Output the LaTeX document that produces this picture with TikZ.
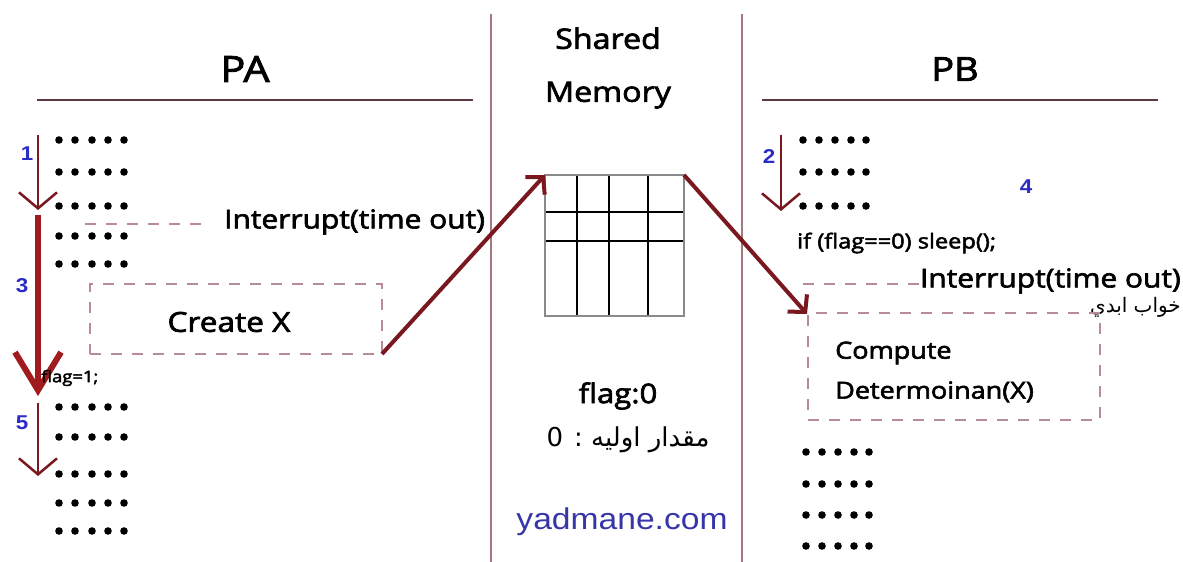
\documentclass[tikz,border=0pt]{standalone}
\usepackage{fontspec}
\setmainfont{Open Sans}
\newfontfamily\comicfont{Open Sans}[FakeStretch=1.15,FakeBold=2.5]
\newfontfamily\arabicfont[Script=Arabic]{DejaVu Sans}
\newfontfamily\arialfont{Liberation Sans}[FakeStretch=1.12]
\TeXXeTstate=1
\usetikzlibrary{arrows.meta}
\definecolor{sepc}{HTML}{A8787F}
\definecolor{headc}{HTML}{5A3A3E}
\definecolor{dashc}{HTML}{B88C96}
\definecolor{darkred}{HTML}{7A1820}
\definecolor{brightred}{HTML}{A01A1E}
\definecolor{numblue}{HTML}{2B2BC8}
\definecolor{webblue}{HTML}{3636A8}
\definecolor{gridgray}{HTML}{8A8A8A}
\begin{document}
\begin{tikzpicture}[x=1pt,y=-1pt,
  sepline/.style={draw=sepc,line width=1.6pt},
  headline/.style={draw=headc,line width=1.3pt},
  dashline/.style={draw=dashc,line width=2pt,dash pattern=on 11pt off 10pt},
  dashbox/.style={dashline,rectangle,inner sep=0pt,outer sep=0pt},
  titletxt/.style={font=\comicfont\fontsize{36}{40}\selectfont},
  itext/.style={font=\comicfont\fontsize{26}{28}\selectfont,inner sep=0pt},
  smalltxt/.style={font=\comicfont\fontsize{16}{18}\selectfont,inner sep=0pt},
  numtxt/.style={text=numblue,font=\arialfont\bfseries\fontsize{20}{22}\selectfont,inner sep=0pt},
  dotrow/.style={fill=black},
  thinarrow/.style={draw=darkred,line width=2.5pt,-{Straight Barb[length=16pt,width=38pt]}},
  thickarrow/.style={draw=brightred,line width=6pt,-{Straight Barb[length=38pt,width=46pt]}},
  linkarrow/.style={draw=darkred,line width=4pt,-{Straight Barb[length=12pt,width=26pt]}}
]
\useasboundingbox[fill=white] (0,0) rectangle (1183,562);

% separators
\coordinate (s1t) at (491,14); \coordinate (s1b) at (491,562);
\coordinate (s2t) at (742,14); \coordinate (s2b) at (742,562);
\draw[sepline] (s1t) -- (s1b);
\draw[sepline] (s2t) -- (s2b);

% titles
\node[titletxt] (pa) at (245,69) {PA};
\node[titletxt,font=\comicfont\fontsize{33}{40}\selectfont] (pb) at (955,69) {PB};
\coordinate (pal) at (37,100); \coordinate (par) at (473,100);
\coordinate (pbl) at (762,100); \coordinate (pbr) at (1158,100);
\draw[headline] (pal) -- (par);
\draw[headline] (pbl) -- (pbr);
\node[titletxt,font=\comicfont\fontsize{28}{53}\selectfont,align=center] (shm) at (608,68) {Shared\\Memory};

% dots
\foreach \y in {140,172,206,236,264,407,437,474,503,531}
  \foreach \x in {59,75,92,108,124} \fill[dotrow] (\x,\y) circle (3.8);
\foreach \y in {140,172,206}
  \foreach \x in {803,819,835,851,866} \fill[dotrow] (\x,\y) circle (3.8);
\foreach \y in {452,484,515,546}
  \foreach \x in {806,822,838,854,869} \fill[dotrow] (\x,\y) circle (3.8);

% PA flow arrows
\coordinate (a1s) at (38,135); \coordinate (a1e) at (38,210);
\coordinate (a3s) at (38,215); \coordinate (a3e) at (38,396);
\coordinate (a5s) at (38,403); \coordinate (a5e) at (38,476);
\draw[thinarrow] (a1s) -- (a1e);
\draw[thickarrow] (a3s) -- (a3e);
\draw[thinarrow] (a5s) -- (a5e);
\node[numtxt] (n1) at (27,154) {1};
\node[numtxt] (n3) at (22,286) {3};
\node[numtxt] (n5) at (22,423) {5};

% PB flow arrow
\coordinate (a2s) at (781,135); \coordinate (a2e) at (781,211);
\draw[thinarrow] (a2s) -- (a2e);
\node[numtxt] (n2) at (769,157) {2};
\node[numtxt] (n4) at (1026,187) {4};

% PA interrupt
\node[itext,anchor=west] (int1) at (224,222) {Interrupt(time out)};
\coordinate (i1s) at (85,224);
\draw[dashline] (i1s) -- ([xshift=-22pt]int1.west |- i1s);

% Create X box
\node[dashbox,minimum width=292pt,minimum height=70pt,anchor=north west] (createbox) at (90,284) {};
\node[itext,font=\comicfont\fontsize{27.5}{30}\selectfont] (createx) at (229,322) {Create X};
\node[smalltxt,anchor=west] (flag1) at (41,378) {flag=1;};

% grid
\node[draw=gridgray,line width=2.5pt,minimum width=139pt,minimum height=141pt,inner sep=0pt,outer sep=0pt,anchor=north west] (grid) at (545,175) {};
\foreach \x in {577,609,648} \draw[black,line width=1.4pt] (\x,176) -- (\x,315);
\foreach \y in {212,241} \draw[black,line width=1.4pt] (546,\y) -- (683,\y);

% links
\draw[linkarrow] (createbox.south east) -- (grid.north west);
\draw[linkarrow] (grid.north east) -- (807,314);

% PB texts
\node[smalltxt,anchor=west,font=\comicfont\fontsize{20.5}{22}\selectfont] (ifl) at (797,243) {if (flag==0) sleep();};
\node[itext,anchor=east] (int2) at (1181,281) {Interrupt(time out)};
\coordinate (i2s) at (803,284);
\draw[dashline] (i2s) -- (int2.west |- i2s);
\node[anchor=east,inner sep=0pt,font=\arabicfont\fontsize{20}{22}\selectfont] (sleep) at (1181,307) {\beginR خواب ابدي\endR};

% Compute box
\node[dashbox,minimum width=292pt,minimum height=107pt,anchor=north west] (compbox) at (808,313) {};
\node[inner sep=0pt,anchor=west,align=left,font=\comicfont\fontsize{23.5}{40}\selectfont] (comp) at (835,372) {Compute\\Determoinan(X)};

% shared memory texts
\node[itext,font=\comicfont\fontsize{27}{28}\selectfont] (flag0) at (618,396) {flag:0};
\node[inner sep=0pt,font=\arabicfont\fontsize{26}{28}\selectfont] (init) at (628,440) {\beginR مقدار اوليه : 0\endR};
\node[inner sep=0pt,text=webblue,font=\arialfont\fontsize{30}{32}\selectfont] (site) at (622,522) {yadmane.com};
\end{tikzpicture}
\end{document}
